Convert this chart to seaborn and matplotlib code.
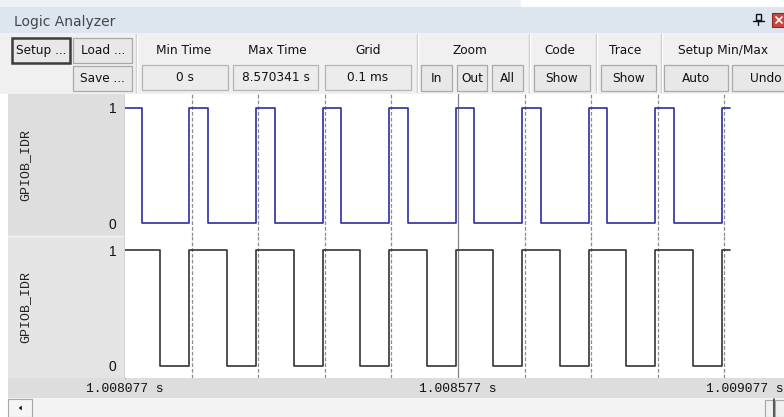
import matplotlib
matplotlib.use("Agg")
import matplotlib.pyplot as plt
import seaborn as sns
import pandas as pd
from matplotlib.patches import Rectangle, Polygon

# ---------------- data ----------------
signal_names = ["GPIOB_IDR", "GPIOB_IDR"]
# transition times in microseconds after 1.008077 s, with the level after each transition
blue_t = [0, 24.5, 96.5, 124.5, 196.5, 224.5, 296.5, 324.5, 396.5, 424.5,
          496.5, 524.5, 596.5, 624.5, 696.5, 724.5, 796.5, 824.5, 896.5, 908]
blue_v = [1, 0, 1, 0, 1, 0, 1, 0, 1, 0, 1, 0, 1, 0, 1, 0, 1, 0, 1, 1]
black_t = [0, 53, 96.5, 153, 196.5, 253, 296.5, 353, 396.5, 453,
           496.5, 553, 596.5, 653, 696.5, 753, 796.5, 853, 896.5, 908]
black_v = [1, 0, 1, 0, 1, 0, 1, 0, 1, 0, 1, 0, 1, 0, 1, 0, 1, 0, 1, 1]
grid_us = [100, 200, 300, 400, 600, 700, 800, 900]
cursor_us = 500
time_ticks = [0, 500, 1000]
time_labels = ["1.008077 s", "1.008577 s", "1.009077 s"]
level_ticks = [0, 1]
level_labels = ["0", "1"]

toolbar_groups = ["Min Time", "Max Time", "Grid", "Zoom", "Code", "Trace", "Setup Min/Max"]
toolbar_values = ["0 s", "8.570341 s", "0.1 ms"]
toolbar_buttons = ["In", "Out", "All", "Show", "Show", "Auto", "Undo"]
title = "Logic Analyzer"

# ---------------- figure ----------------
W, H = 784, 417
fig = plt.figure(figsize=(W / 100, H / 100), dpi=100)
sns.set_style("white")
plt.rcParams["font.family"] = ["DejaVu Sans"]

def ax_px(x0, y0, x1, y1):
    return fig.add_axes([x0 / W, 1 - y1 / H, (x1 - x0) / W, (y1 - y0) / H])

bg = fig.add_axes([0, 0, 1, 1])
bg.set_xlim(0, W)
bg.set_ylim(H, 0)
bg.axis("off")

def rect(x0, y0, x1, y1, fc, ec="none", lw=0.0, z=1):
    bg.add_patch(Rectangle((x0, y0), x1 - x0, y1 - y0, fc=fc, ec=ec, lw=lw, zorder=z))

# window background
rect(0, 0, W, H, "#ffffff", z=0)
rect(0, 0, 521, 7, "#eef2f7")
rect(0, 7, W, 33, "#dde5ef")
bg.text(14, 21.5, title, fontsize=10, color="#464646", va="center", ha="left", zorder=3)
# pin and close icons
bg.add_patch(Rectangle((756, 14), 5, 6, fc="none", ec="#111111", lw=1.0, zorder=3))
bg.plot([753, 764], [20.5, 20.5], color="#111111", lw=1.0, zorder=3)
bg.plot([758.5, 758.5], [20.5, 25], color="#111111", lw=1.0, zorder=3)
bg.add_patch(Rectangle((772, 13), 14, 14, fc="#c9463d", ec="#8a2a22", lw=0.8, zorder=3))
bg.plot([776, 782], [17, 23], color="white", lw=1.2, zorder=4)
bg.plot([776, 782], [23, 17], color="white", lw=1.2, zorder=4)

# toolbar
rect(0, 33, W, 93.5, "#f0f0f0")
for sx in [136, 417, 529, 596, 661]:
    bg.plot([sx, sx], [34, 92], color="#c6c6c6", lw=1.0, zorder=2)
    bg.plot([sx + 1, sx + 1], [34, 92], color="#ffffff", lw=1.0, zorder=2)

def button(x0, y0, x1, y1, label, strong=False):
    bg.add_patch(Rectangle((x0, y0), x1 - x0, y1 - y0, fc="#e8e8e8",
                           ec="#3c3c3c" if strong else "#a9a9a9",
                           lw=1.8 if strong else 0.9, zorder=2))
    bg.text((x0 + x1) / 2, (y0 + y1) / 2 + 0.5, label, fontsize=8.7, color="#111111",
            ha="center", va="center", zorder=3)

def valuebox(x0, y0, x1, y1, label):
    bg.add_patch(Rectangle((x0, y0), x1 - x0, y1 - y0, fc="#ececec",
                           ec="#b4b4b4", lw=0.9, zorder=2))
    bg.text((x0 + x1) / 2, (y0 + y1) / 2 + 0.5, label, fontsize=8.7, color="#111111",
            ha="center", va="center", zorder=3)

button(12.5, 37.5, 70.5, 62.5, "Setup ...", strong=True)
button(73.5, 37.5, 132, 62.5, "Load ...")
button(73.5, 66, 132, 90.5, "Save ...")

group_x = [183.5, 277, 368, 469.5, 559.5, 625.5, 723.5]
for gx, g in zip(group_x, toolbar_groups):
    bg.text(gx, 50, g, fontsize=8.7, color="#111111", ha="center", va="center", zorder=3)

value_boxes = [(142, 228), (233, 318), (325, 411)]
for (x0, x1), v in zip(value_boxes, toolbar_values):
    valuebox(x0, 65, x1, 89.5, v)

button_boxes = [(421, 452), (457, 487), (492, 523), (534, 590), (601, 656), (664, 728), (732, 800)]
for (x0, x1), b in zip(button_boxes, toolbar_buttons):
    button(x0, 65, x1, 90.5, b)

# signal name panels
rect(8, 93.5, 125.2, 236, "#dedede")
rect(8, 236.5, 125.2, 378, "#e4e4e4")
bg.plot([8, 125], [236.2, 236.2], color="#f2f2f2", lw=1.0, zorder=2)
# timeline band and scrollbar
rect(8, 378, W, 398, "#dddddd")
rect(8, 398, W, H, "#f3f3f3")
bg.add_patch(Rectangle((8.5, 399), 24, 17.5, fc="#f5f5f5", ec="#a8a8a8", lw=0.8, zorder=2))
bg.add_patch(Polygon([[17.5, 408], [22.5, 404], [22.5, 412]], closed=True, fc="#111111", zorder=3))
bg.add_patch(Rectangle((765, 399.5), 8, 17, fc="#f0f0f0", ec="#a8a8a8", lw=0.8, zorder=2))
bg.plot([774, 774], [399, 417], color="#444444", lw=1.2, zorder=3)
bg.add_patch(Rectangle((775.5, 399.5), 10, 17, fc="#f0f0f0", ec="#a8a8a8", lw=0.8, zorder=2))

# ---------------- signal axes ----------------
px_per_us = 0.6657
x_left = 125.2
xmax = (W - x_left) / px_per_us
panels = [(93.5, 236.0), (236.0, 378.0)]
series = [(blue_t, blue_v, "#2c2f9e"), (black_t, black_v, "#333333")]
axes = []
for (y0, y1), (ts, vs, col), name in zip(panels, series, signal_names):
    ax = ax_px(x_left, y0, W, y1)
    ax.set_facecolor("white")
    df = pd.DataFrame({"t": ts, "v": vs})
    sns.lineplot(data=df, x="t", y="v", ax=ax, color=col, lw=1.2,
                 drawstyle="steps-post", estimator=None, sort=False, zorder=5)
    for g in grid_us:
        ax.axvline(g, color="#8c8c8c", lw=0.9, ls=(0, (3.0, 1.6)), zorder=2)
    ax.axvline(cursor_us, color="#858585", lw=0.9, zorder=3)
    ax.set_xlim(0, xmax)
    ax.set_ylim(-0.108, 1.123)
    ax.set_xticks([])
    ax.set_yticks(level_ticks)
    ax.set_yticklabels(level_labels, fontfamily="Liberation Sans", fontsize=10, color="#111111")
    ax.tick_params(axis="y", length=0, pad=6.5)
    ax.set_xlabel("")
    ax.set_ylabel(name, fontfamily="Liberation Mono", fontsize=9.5, color="#222222")
    ax.yaxis.label.set_va("center")
    ax.yaxis.set_label_coords((25 - x_left) / (W - x_left), 0.5)
    for s in ax.spines.values():
        s.set_visible(False)
    axes.append(ax)

bg.plot([125, 125], [93.5, 378], color="#9c9c9c", lw=1.0, zorder=4)

ax2 = axes[1]
for t, lab in zip(time_ticks, time_labels):
    if t > xmax:
        # label past the visible range is pulled in against the right edge
        ax2.text(1.0, (378 - 388.5) / 142.0, lab, transform=ax2.transAxes,
                 fontfamily="Liberation Mono", fontsize=9.4, color="#111111",
                 ha="right", va="center", clip_on=False)
    else:
        ax2.text(t, (378 - 388.5) / 142.0, lab, transform=ax2.get_xaxis_transform(),
                 fontfamily="Liberation Mono", fontsize=9.4, color="#111111",
                 ha="center", va="center", clip_on=False)

fig.savefig("out.png", dpi=100)
